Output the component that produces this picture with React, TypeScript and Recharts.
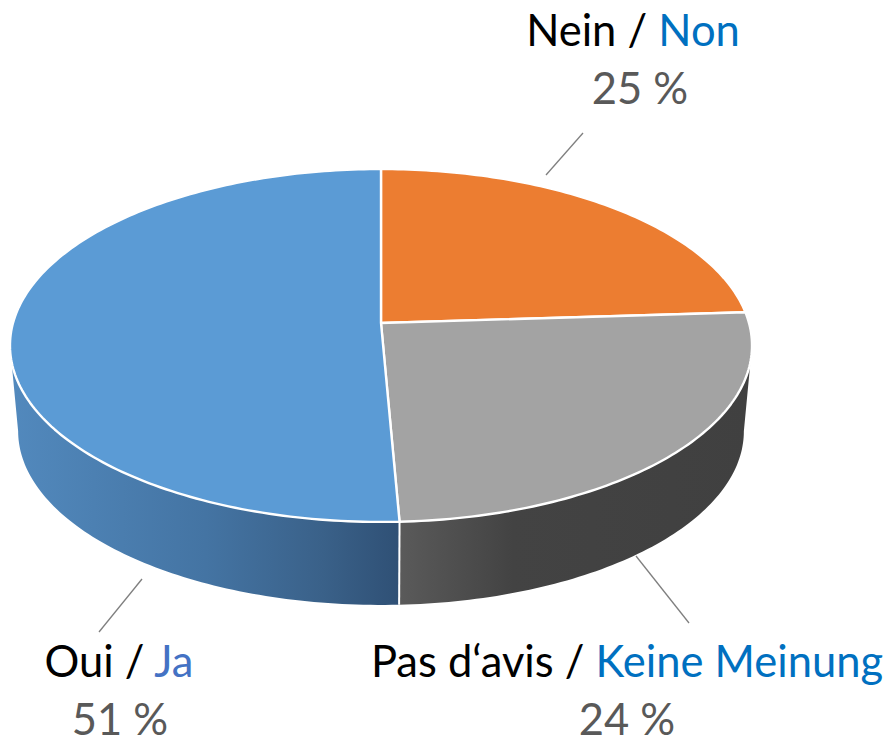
import { PieChart, Pie, Cell } from "recharts";

// first half of each label is black, second half coloured
const labelsFirst = ["Nein", "Pas d‘avis", "Oui"];
const labelsSecond = ["Non", "Keine Meinung", "Ja"];
const labelPercents = ["25 %", "24 %", "51 %"];
// slice sizes (they differ a little from the printed labels)
const sliceValues = [24, 25.3, 50.7];

const secondColors = ["#0070C0", "#0070C0", "#4472C4"];
const topColors = ["#EC7D31", "#A3A3A3", "#5B9BD5"];

const gradients = [
  [["0%", "#9A5020"], ["100%", "#9A5020"]],
  [["0%", "#5A5A5A"], ["32%", "#434343"], ["100%", "#404040"]],
  [["0%", "#5289BD"], ["50%", "#4474A3"], ["80%", "#3A6189"], ["100%", "#2F5075"]],
];
const gradientRange = [[381, 746], [400, 752], [11, 400]];

const labelLayout = [
  { x: 633, y1: 46, px: 640, y2: 104, line: [546, 175, 583, 133] },
  { x: 627, y1: 677, px: 627, y2: 735, line: [636, 556, 689, 623] },
  { x: 119, y1: 677, px: 120, y2: 735, line: [142, 579, 99, 632] },
];

const CX = 381;
const CY = 323;
const RADIUS = 368;

// perspective of the tilted disc
const PERSPECTIVE = 0.1274;
const FLATTEN = 0.4717;
const BOTTOM_SCALE = 0.978;
const BOTTOM_DROP = 86;

const rad = (deg: number) => (deg * Math.PI) / 180;

function project(cx: number, cy: number, r: number, a: number, bottom = false) {
  const u = Math.sin(rad(a));
  const v = Math.cos(rad(a));
  const w = 1 + PERSPECTIVE * v;
  const rx = bottom ? r * BOTTOM_SCALE : r;
  const ry = (bottom ? r * 0.985 : r) * FLATTEN;
  return {
    x: cx + (rx * u) / w,
    y: cy + (bottom ? BOTTOM_DROP : 0) - (ry * v) / w,
  };
}

function arc(cx: number, cy: number, r: number, from: number, to: number, bottom = false) {
  const pts = [];
  const steps = Math.max(2, Math.ceil(Math.abs(to - from)));
  for (let i = 0; i <= steps; i++) {
    const p = project(cx, cy, r, from + ((to - from) * i) / steps, bottom);
    pts.push(`${p.x.toFixed(2)} ${p.y.toFixed(2)}`);
  }
  return pts;
}

function Slice3D(props: any) {
  const { cx, cy, outerRadius, startAngle, endAngle, index, fill } = props;
  const a1 = 90 - startAngle;
  const a2 = 90 - endAngle;
  const top = arc(cx, cy, outerRadius, a1, a2);
  const topPath = `M ${cx} ${cy} L ${top.join(" L ")} Z`;

  // side wall only shows on the near half of the rim
  const silhouette = (Math.acos(-PERSPECTIVE) * 180) / Math.PI;
  const wallFrom = Math.max(a1, silhouette);
  const wallTo = Math.min(a2, 360 - silhouette);
  const hasWall = wallTo > wallFrom;
  const gradId = `wall-${index}`;
  const [gx1, gx2] = gradientRange[index];
  const wallPath = hasWall
    ? `M ${arc(cx, cy, outerRadius, wallFrom, wallTo).join(" L ")} L ${arc(cx, cy, outerRadius, wallTo, wallFrom, true).join(" L ")} Z`
    : "";
  const seamTop = project(cx, cy, outerRadius, a1);
  const seamBottom = project(cx, cy, outerRadius, a1, true);

  return (
    <g>
      {hasWall && (
        <>
          <defs>
            <linearGradient id={gradId} gradientUnits="userSpaceOnUse" x1={gx1} y1={0} x2={gx2} y2={0}>
              {gradients[index].map(([o, c]) => (
                <stop key={o} offset={o} stopColor={c} />
              ))}
            </linearGradient>
          </defs>
          <path d={wallPath} fill={`url(#${gradId})`} stroke="none" />
          {a1 > silhouette && (
            <line x1={seamTop.x} y1={seamTop.y} x2={seamBottom.x} y2={seamBottom.y} stroke="#FFFFFF" strokeWidth={2} />
          )}
        </>
      )}
      <path d={topPath} fill={fill} stroke="#FFFFFF" strokeWidth={2.4} strokeLinejoin="round" />
    </g>
  );
}

function renderLabel(props: any) {
  const { index } = props;
  const l = labelLayout[index];
  return (
    <g key={index} fontFamily="Lato, sans-serif" fontSize={43.5}>
      <text x={l.x} y={l.y1} textAnchor="middle" fill="#000000">
        {labelsFirst[index]} /{" "}
        <tspan fill={secondColors[index]}>{labelsSecond[index]}</tspan>
      </text>
      <text x={l.px} y={l.y2} textAnchor="middle" fill="#595959">
        {labelPercents[index]}
      </text>
    </g>
  );
}

function renderLine(props: any) {
  const [x1, y1, x2, y2] = labelLayout[props.index].line;
  return <line key={props.index} x1={x1} y1={y1} x2={x2} y2={y2} stroke="#7F7F7F" strokeWidth={1.3} />;
}

const chartData = sliceValues.map((value, i) => ({ name: labelsFirst[i], value }));

export default function App() {
  return (
    <div style={{ position: "absolute", left: 0, top: 0, width: 894, height: 737, background: "#FFFFFF", overflow: "hidden" }}>
      <PieChart width={894} height={737} margin={{ top: 0, right: 0, bottom: 0, left: 0 }}>
        <Pie
          data={chartData}
          dataKey="value"
          nameKey="name"
          cx={CX}
          cy={CY}
          innerRadius={0}
          outerRadius={RADIUS}
          startAngle={90}
          endAngle={-270}
          shape={Slice3D}
          label={renderLabel}
          labelLine={renderLine}
          isAnimationActive={false}
        >
          {chartData.map((d, i) => (
            <Cell key={d.name} fill={topColors[i]} />
          ))}
        </Pie>
      </PieChart>
    </div>
  );
}
